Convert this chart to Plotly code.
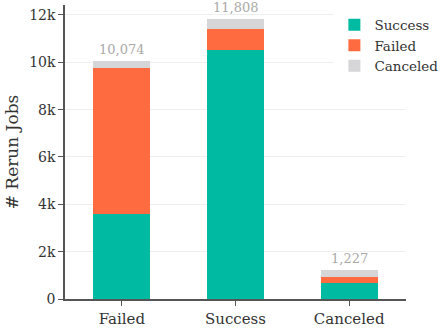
import plotly.graph_objects as go

categories = ["Failed", "Success", "Canceled"]
success_vals = [3580, 10520, 680]
failed_vals = [6180, 890, 260]
canceled_vals = [314, 398, 287]
totals = [s + f + c for s, f, c in zip(success_vals, failed_vals, canceled_vals)]

FONT = "DejaVu Serif"
fig = go.Figure()
fig.add_bar(name="Success", x=categories, y=success_vals, marker_color="#00BBA2", marker_line_width=0)
fig.add_bar(name="Failed", x=categories, y=failed_vals, marker_color="#FF6B40", marker_line_width=0)
fig.add_bar(name="Canceled", x=categories, y=canceled_vals, marker_color="#D6D6D9", marker_line_width=0)

for cat, tot in zip(categories, totals):
    fig.add_annotation(x=cat, y=tot, text=f"{tot:,}", showarrow=False, yanchor="bottom", yshift=2,
                       font=dict(family=FONT, size=13, color="#AAAAAA"))

fig.update_layout(
    barmode="stack", bargap=0.5,
    width=442, height=328,
    margin=dict(l=65, r=36, t=5, b=29, autoexpand=False),
    paper_bgcolor="white", plot_bgcolor="white",
    font=dict(family=FONT, size=14, color="#333333"),
    legend=dict(x=0.79, y=0.985, xanchor="left", yanchor="top", bgcolor="white",
                font=dict(size=13.5), tracegroupgap=0, traceorder="normal", itemwidth=30),
    yaxis=dict(range=[0, 12420], tickvals=[0, 2000, 4000, 6000, 8000, 10000, 12000],
               ticktext=["0", "2k", "4k", "6k", "8k", "10k", "12k"], automargin=False,
               showgrid=True, gridcolor="#EEEEEE", zeroline=False,
               showline=True, linecolor="#555555", linewidth=1.5, ticks="outside", ticklen=5,
               tickcolor="#555555",
               title=dict(text="# Rerun Jobs", font=dict(size=17), standoff=6)),
    xaxis=dict(showline=True, linecolor="#555555", linewidth=1.5, ticks="outside", ticklen=5,
               tickcolor="#555555", tickfont=dict(size=15), automargin=False),
)
fig.write_html("out.html")
